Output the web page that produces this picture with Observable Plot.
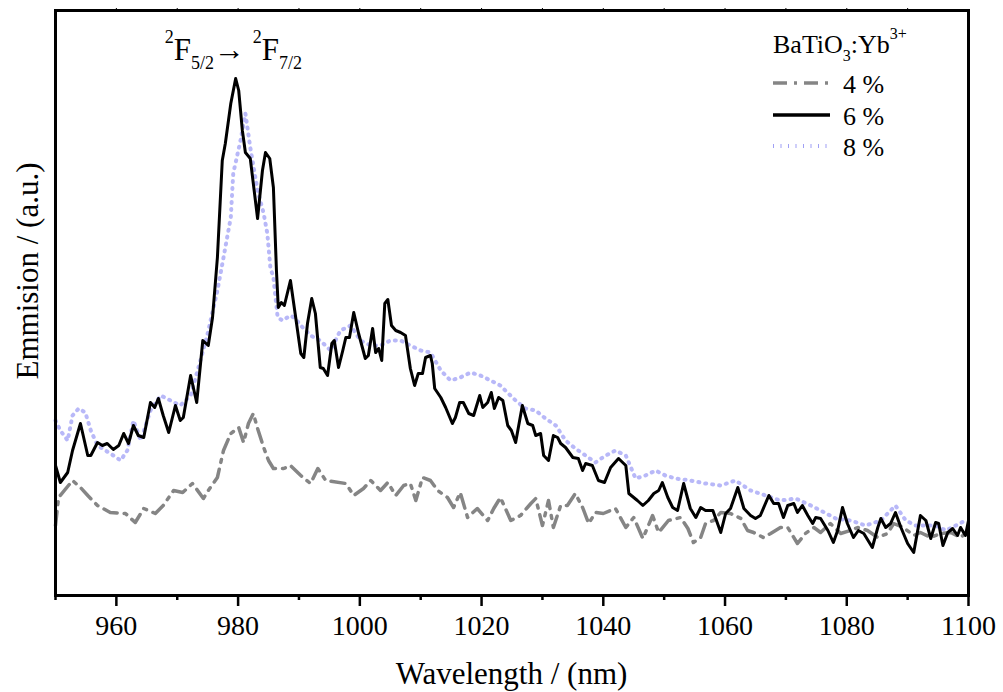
<!DOCTYPE html>
<html>
<head>
<meta charset="utf-8">
<script src="https://cdn.jsdelivr.net/npm/d3@7"></script>
<script src="https://cdn.jsdelivr.net/npm/@observablehq/plot@0.6"></script>
<style>
  html, body { margin: 0; padding: 0; background: #fff; }
  #chart { width: 1003px; height: 692px; }
  #chart svg, #chart svg text { font-family: "Liberation Serif", "Times New Roman", serif !important; }
</style>
</head>
<body>
<div id="chart"></div>
<script>
// ---- Data (intensity in arbitrary units) ----
const wavelength6 = [950.0,950.8,952.0,952.8,954.1,955.3,955.8,956.9,957.7,958.5,959.5,960.4,961.2,962.0,962.8,963.6,964.5,965.6,966.3,966.9,967.7,968.6,969.7,970.5,971.0,972.2,973.2,974.2,975.1,975.8,976.6,977.4,977.9,978.8,979.6,980.1,980.7,981.2,982.0,983.2,984.0,984.5,985.2,985.8,986.3,986.6,987.1,987.6,988.6,989.3,990.3,990.8,991.4,992.1,992.7,993.5,994.0,994.7,995.4,995.8,996.5,997.2,997.7,998.3,999.0,999.8,1000.9,1001.4,1002.1,1002.6,1003.1,1003.6,1004.1,1004.6,1005.2,1005.9,1006.7,1007.5,1008.3,1009.0,1009.6,1010.3,1010.8,1011.6,1011.9,1012.3,1013.3,1014.1,1015.2,1015.7,1016.4,1017.0,1017.9,1018.7,1019.7,1020.2,1021.0,1021.6,1022.1,1022.8,1023.5,1024.3,1024.9,1025.6,1026.7,1027.6,1028.4,1028.9,1029.7,1030.2,1031.0,1031.8,1032.5,1033.0,1033.8,1035.0,1035.9,1036.6,1037.1,1038.2,1039.2,1040.2,1041.2,1042.5,1043.7,1044.2,1045.6,1046.5,1047.4,1048.3,1049.1,1049.7,1050.6,1051.4,1052.2,1053.2,1054.3,1055.2,1056.0,1056.8,1058.0,1059.3,1060.1,1060.9,1062.1,1063.1,1064.2,1065.0,1065.8,1067.2,1068.0,1068.8,1069.6,1070.3,1071.3,1071.9,1072.7,1073.6,1074.4,1074.9,1075.7,1076.9,1077.8,1078.5,1079.3,1080.1,1081.1,1081.9,1082.8,1084.2,1085.1,1085.6,1086.4,1087.2,1088.0,1088.9,1090.0,1091.0,1092.1,1093.0,1093.8,1094.6,1095.1,1095.8,1096.6,1097.4,1098.2,1098.7,1099.5,1100.0];
const intensity6 = [130,113,123,145,172,140,140,153,150,152,146,150,162,152,170,160,158,193,188,197,180,163,190,175,178,220,193,255,250,278,338,435,452,492,517,505,465,443,437,377,425,443,437,408,325,288,293,290,315,285,242,238,272,297,282,228,227,220,252,255,228,245,258,258,283,262,237,240,267,243,247,235,292,296,270,265,263,260,227,210,222,222,238,240,232,207,198,188,172,178,193,193,182,180,200,188,193,203,187,198,195,170,165,153,190,172,170,160,162,140,135,160,158,152,148,138,137,125,132,130,115,113,128,137,130,102,95,90,95,102,105,113,98,88,85,112,87,78,88,85,85,63,82,87,108,87,80,77,80,100,92,92,78,90,92,83,90,80,72,78,77,65,53,65,88,72,58,65,62,48,68,77,68,72,83,68,52,43,80,75,57,73,72,50,63,67,60,68,60,75];

const wavelength4 = [950.0,950.5,952.8,954.1,955.3,956.9,959.0,961.5,963.1,964.5,966.4,967.7,969.4,970.9,972.5,974.3,975.1,976.6,977.6,978.8,980.1,980.9,981.7,982.5,983.2,984.2,985.0,985.8,987.5,988.6,990.3,991.9,993.1,994.4,997.7,999.0,1000.6,1001.8,1003.4,1004.6,1005.9,1007.2,1008.3,1009.2,1010.3,1011.6,1012.8,1014.4,1015.4,1016.5,1017.7,1019.3,1021.0,1022.0,1023.1,1024.8,1026.4,1028.1,1028.9,1030.0,1031.0,1031.8,1033.0,1034.1,1035.4,1036.6,1037.6,1038.7,1040.0,1042.0,1043.7,1045.0,1046.5,1048.1,1049.1,1050.7,1052.7,1053.9,1054.8,1056.0,1056.8,1058.1,1059.3,1060.9,1062.6,1063.7,1064.7,1066.3,1067.5,1069.1,1070.3,1071.9,1073.2,1074.6,1075.7,1077.3,1079.0,1080.6,1081.8,1083.4,1085.1,1086.7,1087.7,1089.3,1091.0,1092.1,1093.8,1095.4,1097.1,1098.7,1100.0];
const intensity4 = [70,98,115,108,100,90,83,82,73,87,82,90,105,103,112,97,105,118,145,162,168,153,172,182,167,148,135,127,127,130,120,112,127,115,112,100,107,115,105,113,100,110,112,95,118,115,105,98,88,103,78,87,75,87,98,75,80,92,97,70,95,68,90,90,102,88,72,83,82,87,68,78,57,80,63,75,78,67,53,58,72,75,83,82,77,65,63,58,62,68,68,52,62,68,63,72,62,65,68,65,58,62,72,68,60,63,58,62,63,58,65];

const wavelength8 = [950.0,950.8,952.0,952.8,953.8,954.9,955.8,956.9,958.2,959.5,960.7,961.8,962.8,964.0,965.6,967.3,968.9,970.5,972.2,973.8,975.0,976.6,977.6,978.8,979.2,980.4,981.2,982.0,983.2,984.2,984.8,985.3,985.8,986.5,987.3,988.6,989.4,990.3,991.9,993.5,995.2,996.8,998.5,1000.1,1001.8,1003.4,1005.0,1006.7,1008.3,1010.0,1011.6,1013.3,1014.9,1016.5,1018.2,1019.8,1021.5,1023.1,1023.9,1025.6,1027.2,1028.9,1030.5,1032.2,1033.8,1035.4,1037.1,1038.7,1040.4,1042.0,1043.7,1045.3,1046.9,1048.6,1050.2,1051.9,1054.3,1056.8,1059.3,1061.7,1064.2,1066.7,1069.1,1071.6,1074.1,1075.7,1078.2,1080.6,1083.1,1085.6,1088.0,1089.7,1091.3,1093.0,1094.6,1096.3,1097.9,1099.5];
const intensity8 = [175,165,155,180,187,183,165,150,145,140,135,145,175,155,185,200,195,190,200,235,262,305,338,378,422,455,482,448,405,382,362,328,318,278,275,280,277,270,260,255,245,265,270,255,250,250,255,255,250,245,243,225,215,218,223,220,215,210,205,195,187,185,177,170,155,147,140,133,140,145,140,117,120,125,120,117,115,112,110,115,105,100,95,97,90,85,77,75,70,75,90,75,70,70,70,65,70,75];

const seriesNames = ["4 %", "6 %", "8 %"];
const majorTicks = [960, 980, 1000, 1020, 1040, 1060, 1080, 1100];
const minorTicks = [950, 970, 990, 1010, 1030, 1050, 1070, 1090];
const topTicks = [960, 970, 980, 990, 1000, 1010, 1020, 1030, 1040, 1050, 1060, 1070, 1080, 1090];

// ---- Build tables ----
const zip = (w, v, s) => w.map((d, i) => ({wl: d, val: v[i], s}));
const d4 = zip(wavelength4, intensity4, seriesNames[0]);
const d6 = zip(wavelength6, intensity6, seriesNames[1]);
const d8 = zip(wavelength8, intensity8, seriesNames[2]);

const FONT = "'Liberation Serif', 'Times New Roman', serif";
const C4 = "#858585", C6 = "#000000", C8 = "#a0a0f5";

const plot = Plot.plot({
  width: 1003,
  height: 692,
  marginLeft: 55,
  marginRight: 35,
  marginTop: 10,
  marginBottom: 97,
  style: {fontFamily: FONT, fontSize: "28px", color: "#000", background: "#fff"},
  x: {domain: [950, 1100]},
  y: {domain: [0, 585], axis: null},
  marks: [
    Plot.line(d8, {x: "wl", y: "val", stroke: C8, strokeWidth: 4, strokeDasharray: "1,6", strokeOpacity: 0.75}),
    Plot.line(d4, {x: "wl", y: "val", stroke: C4, strokeWidth: 3.5, strokeDasharray: "14,7,3,7"}),
    Plot.line(d6, {x: "wl", y: "val", stroke: C6, strokeWidth: 3, strokeLinejoin: "round"}),
    Plot.axisX(majorTicks, {anchor: "bottom", tickSize: 11, tickPadding: 9, strokeWidth: 2.5, fontSize: 28, label: null, tickFormat: d => String(d)}),
    Plot.axisX(minorTicks, {anchor: "bottom", tickSize: 5, strokeWidth: 2.5, tickFormat: () => "", label: null}),
    Plot.axisX(topTicks, {anchor: "top", tickSize: 3, strokeWidth: 1, tickFormat: () => "", label: null}),
    Plot.frame({stroke: "#000", strokeWidth: 3})
  ]
});

document.getElementById("chart").appendChild(plot);

// ---- Text annotations, axis titles and legend ----
const svg = d3.select(plot);
const sx = plot.scale("x");

// axis titles
svg.append("text")
  .attr("x", (sx.range[0] + sx.range[1]) / 2).attr("y", 684)
  .style("text-anchor", "middle").style("font-size", "31px")
  .text("Wavelength / (nm)");

svg.append("text")
  .attr("transform", `translate(38,271) rotate(-90)`)
  .style("text-anchor", "middle").style("font-size", "31px")
  .text("Emmision / (a.u.)");

// transition annotation
const ann = svg.append("text")
  .attr("x", sx.apply(979.3)).attr("y", 60)
  .style("text-anchor", "middle").style("font-size", "31px");
ann.append("tspan").style("font-size", "18px").attr("dy", -17).text("2");
ann.append("tspan").attr("dy", 17).text("F");
ann.append("tspan").style("font-size", "18px").attr("dy", 9).text("5/2");
ann.append("tspan").attr("dy", -9).text("\u2192 ");
ann.append("tspan").style("font-size", "18px").attr("dy", -17).text("2");
ann.append("tspan").attr("dy", 17).text("F");
ann.append("tspan").style("font-size", "18px").attr("dy", 9).text("7/2");

// legend
const lg = svg.append("g");
const title = lg.append("text").attr("x", 773).attr("y", 53)
  .style("text-anchor", "start").style("font-size", "26px");
title.append("tspan").text("BaTiO");
title.append("tspan").style("font-size", "16px").attr("dy", 8).text("3");
title.append("tspan").attr("dy", -8).text(":Yb");
title.append("tspan").style("font-size", "16px").attr("dy", -14).text("3+");

const legendRows = [
  {name: seriesNames[0], stroke: C4, w: 3.5, dash: "14,7,3,7", y: 83},
  {name: seriesNames[1], stroke: C6, w: 3.5, dash: null, y: 115},
  {name: seriesNames[2], stroke: C8, w: 4, dash: "1,6.5", y: 146}
];
legendRows.forEach(r => {
  const ln = lg.append("line")
    .attr("x1", 773).attr("x2", 830).attr("y1", r.y).attr("y2", r.y)
    .attr("stroke", r.stroke).attr("stroke-width", r.w);
  if (r.dash) ln.attr("stroke-dasharray", r.dash);
  lg.append("text").attr("x", 843).attr("y", r.y + 10)
    .style("text-anchor", "start").style("font-size", "26px").text(r.name);
});
</script>
</body>
</html>
